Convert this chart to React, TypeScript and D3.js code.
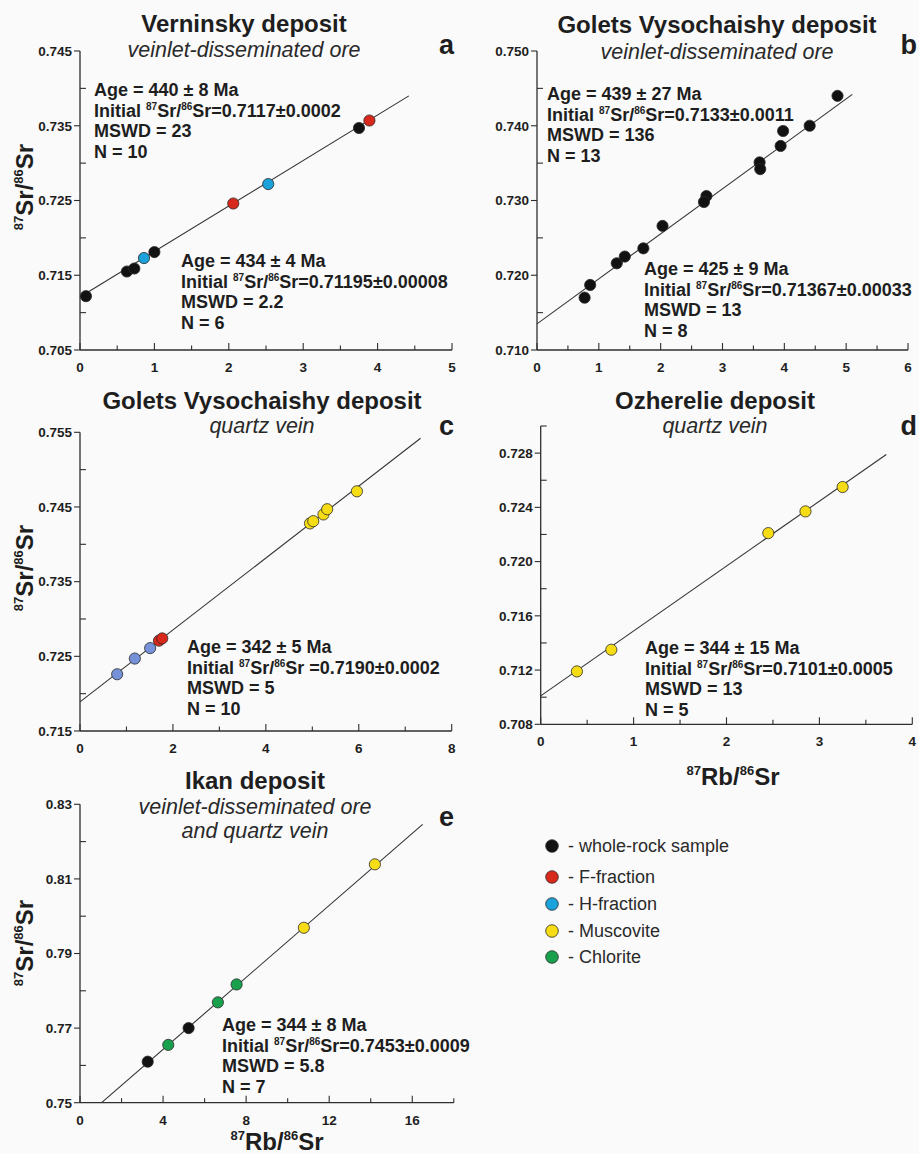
import React from "react";
import * as d3 from "d3";

const FONT = "'Liberation Sans', Arial, Helvetica, sans-serif";
const INK = "#1e1e1e";

// point kinds
const KIND_COLOR: Record<string, string> = {
  W: "#121212", // whole-rock
  F: "#d8281c", // F-fraction
  H: "#1ca2da", // H-fraction
  Hc: "#7592d8", // H-fraction as drawn in panel c
  M: "#f6dc14", // muscovite
  C: "#18a04c", // chlorite
};

// ---- panel a: Verninsky
const aRb = [0.08, 0.63, 0.73, 0.86, 1.0, 2.06, 2.53, 3.75, 3.89];
const aSr = [0.7122, 0.7155, 0.7159, 0.7173, 0.7181, 0.7246, 0.7272, 0.7347, 0.7357];
const aKind = ["W", "W", "W", "H", "W", "F", "H", "W", "F"];
const aLine = [[0, 0.7121], [4.42, 0.739]];
const aXTicks = [0, 1, 2, 3, 4, 5];
const aYTicks = [0.705, 0.715, 0.725, 0.735, 0.745];

// ---- panel b: Golets Vysochaishy, ore
const bRb = [0.77, 0.86, 1.29, 1.42, 1.72, 2.03, 2.74, 2.7, 3.6, 3.61, 3.94, 3.98, 4.41, 4.86];
const bSr = [0.717, 0.7187, 0.7216, 0.7225, 0.7236, 0.7266, 0.7306, 0.7298, 0.7351, 0.7342, 0.7373, 0.7393, 0.74, 0.744];
const bLine = [[0, 0.7135], [5.1, 0.7442]];
const bXTicks = [0, 1, 2, 3, 4, 5, 6];
const bYTicks = [0.71, 0.72, 0.73, 0.74, 0.75];

// ---- panel c: Golets Vysochaishy, quartz vein
const cRb = [0.8, 1.18, 1.51, 1.7, 1.77, 4.95, 5.02, 5.24, 5.32, 5.96];
const cSr = [0.7226, 0.7247, 0.7261, 0.7271, 0.7274, 0.7428, 0.7431, 0.744, 0.7447, 0.7471];
const cKind = ["Hc", "Hc", "Hc", "F", "F", "M", "M", "M", "M", "M"];
const cLine = [[0, 0.7189], [7.33, 0.7542]];
const cXTicks = [0, 2, 4, 6, 8];
const cYTicks = [0.715, 0.725, 0.735, 0.745, 0.755];

// ---- panel d: Ozherelie
const dRb = [0.39, 0.76, 2.45, 2.85, 3.25];
const dSr = [0.7119, 0.7135, 0.7221, 0.7237, 0.7255];
const dLine = [[0, 0.7101], [3.72, 0.7279]];
const dXTicks = [0, 1, 2, 3, 4];
const dYTicks = [0.708, 0.712, 0.716, 0.72, 0.724, 0.728];

// ---- panel e: Ikan
const eRb = [3.26, 4.25, 5.23, 6.64, 7.54, 10.78, 14.2];
const eSr = [0.761, 0.7655, 0.77, 0.7769, 0.7817, 0.7969, 0.8139];
const eKind = ["W", "C", "W", "C", "C", "M", "M"];
const eLine = [[1.04, 0.75], [16.5, 0.8246]];
const eXTicks = [0, 4, 8, 12, 16];
const eYTicks = [0.75, 0.77, 0.79, 0.81, 0.83];

// isochron notes: age, initial ratio, MSWD, N
const noteA1 = ["440 ± 8", "=0.7117±0.0002", "23", "10"];
const noteA2 = ["434 ± 4", "=0.71195±0.00008", "2.2", "6"];
const noteB1 = ["439 ± 27", "=0.7133±0.0011", "136", "13"];
const noteB2 = ["425 ± 9", "=0.71367±0.00033", "13", "8"];
const noteC = ["342 ± 5", " =0.7190±0.0002", "5", "10"];
const noteD = ["344 ± 15", "=0.7101±0.0005", "13", "5"];
const noteE = ["344 ± 8", "=0.7453±0.0009", "5.8", "7"];

const legendKinds = ["W", "F", "H", "M", "C"];
const legendNames = ["whole-rock sample", "F-fraction", "H-fraction", "Muscovite", "Chlorite"];

type Pt = { x: number; y: number; k: string };
const zip = (xs: number[], ys: number[], ks: string[] | string): Pt[] =>
  xs.map((x, i) => ({ x, y: ys[i], k: typeof ks === "string" ? ks : ks[i] }));

function Note({ x, y, v }: { x: number; y: number; v: string[] }) {
  const fs = 18;
  const lh = 20.6;
  return (
    <text x={x} y={y} fontFamily={FONT} fontWeight="bold" fontSize={fs} fill={INK}>
      <tspan x={x} y={y}>{`Age = ${v[0]} Ma`}</tspan>
      <tspan x={x} y={y + lh}>Initial </tspan>
      <tspan fontSize={10} dy={-7}>87</tspan>
      <tspan dy={7}>Sr/</tspan>
      <tspan fontSize={10} dy={-7}>86</tspan>
      <tspan dy={7}>{`Sr${v[1]}`}</tspan>
      <tspan x={x} y={y + 2 * lh}>{`MSWD = ${v[2]}`}</tspan>
      <tspan x={x} y={y + 3 * lh}>{`N = ${v[3]}`}</tspan>
    </text>
  );
}

function RatioLabel({ x, y, a, b, rotate }: { x: number; y: number; a: string; b: string; rotate?: boolean }) {
  return (
    <text
      transform={`translate(${x},${y})${rotate ? " rotate(-90)" : ""}`}
      textAnchor="middle"
      fontFamily={FONT}
      fontWeight="bold"
      fontSize={24}
      fill={INK}
    >
      <tspan fontSize={13} dy={-10}>87</tspan>
      <tspan dy={10}>{`${a}/`}</tspan>
      <tspan fontSize={13} dy={-10}>86</tspan>
      <tspan dy={10}>{b}</tspan>
    </text>
  );
}

type PanelProps = {
  box: [number, number, number, number]; // left, right, top, bottom
  xDom: [number, number];
  yDom: [number, number];
  xTicks: number[];
  xMinor: number;
  yTicks: number[];
  yMinor: number;
  yFmt: string;
  pts: Pt[];
  line: number[][];
  title: string;
  titleX: number;
  titleY: number;
  sub: string[];
  subY: number[];
  letter: string;
  letterX: number;
  letterY: number;
  letterAnchor: "start" | "end";
  notes: { x: number; y: number; v: string[] }[];
};

function Panel(p: PanelProps) {
  const [l, r, t, b] = p.box;
  const x = d3.scaleLinear().domain(p.xDom).range([l, r]);
  const y = d3.scaleLinear().domain(p.yDom).range([b, t]);
  const fmt = d3.format(p.yFmt);
  const eps = 1e-9;
  const xMinorT = d3.range(p.xDom[0], p.xDom[1] + eps, p.xMinor).filter((v) => !p.xTicks.some((m) => Math.abs(m - v) < eps));
  const yMinorT = d3.range(p.yDom[0], p.yDom[1] + eps, p.yMinor).filter((v) => !p.yTicks.some((m) => Math.abs(m - v) < eps));
  const lineGen = d3
    .line<number[]>()
    .x((d) => x(d[0]))
    .y((d) => y(d[1]));
  const axisStroke = "#2e2e2e";
  return (
    <g>
      <text x={p.titleX} y={p.titleY} textAnchor="middle" fontFamily={FONT} fontWeight="bold" fontSize={24} fill={INK}>
        {p.title}
      </text>
      {p.sub.map((s, i) => (
        <text key={i} x={p.titleX} y={p.subY[i]} textAnchor="middle" fontFamily={FONT} fontStyle="italic" fontSize={21.5} fill="#2a2a2a">
          {s}
        </text>
      ))}
      <text x={p.letterX} y={p.letterY} textAnchor={p.letterAnchor} fontFamily={FONT} fontWeight="bold" fontSize={27} fill={INK}>
        {p.letter}
      </text>

      {/* axes */}
      <line x1={l} x2={l} y1={t} y2={b} stroke={axisStroke} strokeWidth={1.3} />
      <line x1={l} x2={r} y1={b} y2={b} stroke={axisStroke} strokeWidth={1.3} />
      {p.yTicks.map((v) => (
        <g key={`ym${v}`}>
          <line x1={l - 6} x2={l} y1={y(v)} y2={y(v)} stroke={axisStroke} strokeWidth={1.1} />
          <text x={l - 8} y={y(v) + 4.8} textAnchor="end" fontFamily={FONT} fontWeight="bold" fontSize={13.5} fill={INK}>
            {fmt(v)}
          </text>
        </g>
      ))}
      {yMinorT.map((v) => (
        <line key={`yn${v}`} x1={l} x2={l + 6} y1={y(v)} y2={y(v)} stroke={axisStroke} strokeWidth={1.1} />
      ))}
      {p.xTicks.map((v) => (
        <g key={`xm${v}`}>
          <line x1={x(v)} x2={x(v)} y1={b} y2={b - 7} stroke={axisStroke} strokeWidth={1.1} />
          <text x={x(v)} y={b + 22} textAnchor="middle" fontFamily={FONT} fontWeight="bold" fontSize={13.5} fill={INK}>
            {v}
          </text>
        </g>
      ))}
      {xMinorT.map((v) => (
        <line key={`xn${v}`} x1={x(v)} x2={x(v)} y1={b} y2={b - 4.5} stroke={axisStroke} strokeWidth={1.1} />
      ))}

      {/* isochron */}
      <path d={lineGen(p.line) || ""} fill="none" stroke="#333" strokeWidth={1.1} />

      {p.pts.map((d, i) => (
        <circle key={i} cx={x(d.x)} cy={y(d.y)} r={5.6} fill={KIND_COLOR[d.k]} stroke="#2a2a2a" strokeWidth={0.8} />
      ))}

      {p.notes.map((n, i) => (
        <Note key={i} x={n.x} y={n.y} v={n.v} />
      ))}
    </g>
  );
}

export default function App() {
  const W = 919;
  const H = 1154;
  return (
    <svg
      width={W}
      height={H}
      viewBox={`0 0 ${W} ${H}`}
      style={{ position: "absolute", left: 0, top: 0, display: "block", background: "#fafafa" }}
    >
      <rect x={0} y={0} width={W} height={H} fill="#fafafa" />

      <Panel
        box={[80, 452, 51, 350]}
        xDom={[0, 5]}
        yDom={[0.705, 0.745]}
        xTicks={aXTicks}
        xMinor={0.5}
        yTicks={aYTicks}
        yMinor={0.005}
        yFmt=".3f"
        pts={zip(aRb, aSr, aKind)}
        line={aLine}
        title="Verninsky deposit"
        titleX={244}
        titleY={32}
        sub={["veinlet-disseminated ore"]}
        subY={[57]}
        letter="a"
        letterX={454}
        letterY={54}
        letterAnchor="end"
        notes={[
          { x: 94, y: 96, v: noteA1 },
          { x: 181, y: 267, v: noteA2 },
        ]}
      />
      <RatioLabel x={33} y={187} a="Sr" b="Sr" rotate />

      <Panel
        box={[537, 908, 51, 350]}
        xDom={[0, 6]}
        yDom={[0.71, 0.75]}
        xTicks={bXTicks}
        xMinor={0.5}
        yTicks={bYTicks}
        yMinor={0.005}
        yFmt=".3f"
        pts={zip(bRb, bSr, "W")}
        line={bLine}
        title="Golets Vysochaishy deposit"
        titleX={717}
        titleY={33}
        sub={["veinlet-disseminated ore"]}
        subY={[59]}
        letter="b"
        letterX={917}
        letterY={54}
        letterAnchor="end"
        notes={[
          { x: 547, y: 100, v: noteB1 },
          { x: 644, y: 275, v: noteB2 },
        ]}
      />

      <Panel
        box={[80, 451.7, 432.3, 731]}
        xDom={[0, 8]}
        yDom={[0.715, 0.755]}
        xTicks={cXTicks}
        xMinor={1}
        yTicks={cYTicks}
        yMinor={0.005}
        yFmt=".3f"
        pts={zip(cRb, cSr, cKind)}
        line={cLine}
        title="Golets Vysochaishy deposit"
        titleX={262}
        titleY={409}
        sub={["quartz vein"]}
        subY={[433]}
        letter="c"
        letterX={454}
        letterY={435}
        letterAnchor="end"
        notes={[{ x: 187, y: 653, v: noteC }]}
      />
      <RatioLabel x={33} y={568} a="Sr" b="Sr" rotate />

      <Panel
        box={[540.7, 912.3, 426, 724.3]}
        xDom={[0, 4]}
        yDom={[0.708, 0.73]}
        xTicks={dXTicks}
        xMinor={0.5}
        yTicks={dYTicks}
        yMinor={0.002}
        yFmt=".3f"
        pts={zip(dRb, dSr, "M")}
        line={dLine}
        title="Ozherelie deposit"
        titleX={715}
        titleY={409}
        sub={["quartz vein"]}
        subY={[433]}
        letter="d"
        letterX={917}
        letterY={435}
        letterAnchor="end"
        notes={[{ x: 645, y: 654, v: noteD }]}
      />
      <RatioLabel x={733} y={785} a="Rb" b="Sr" />

      <Panel
        box={[80, 453.8, 804.3, 1102.7]}
        xDom={[0, 18]}
        yDom={[0.75, 0.83]}
        xTicks={eXTicks}
        xMinor={2}
        yTicks={eYTicks}
        yMinor={0.01}
        yFmt=".2f"
        pts={zip(eRb, eSr, eKind)}
        line={eLine}
        title="Ikan deposit"
        titleX={255}
        titleY={789}
        sub={["veinlet-disseminated ore", "and quartz vein"]}
        subY={[814, 838]}
        letter="e"
        letterX={454}
        letterY={826}
        letterAnchor="end"
        notes={[{ x: 222, y: 1031, v: noteE }]}
      />
      <RatioLabel x={33} y={943} a="Sr" b="Sr" rotate />
      <RatioLabel x={277} y={1150} a="Rb" b="Sr" />

      {/* legend */}
      {legendKinds.map((k, i) => {
        const ly = [846, 877, 904, 931, 957][i];
        return (
          <g key={k}>
            <circle cx={552} cy={ly} r={6.3} fill={KIND_COLOR[k]} stroke="#2a2a2a" strokeWidth={0.8} />
            <text x={568} y={ly + 6.3} fontFamily={FONT} fontSize={18} fill="#2a2a2a">
              {`- ${legendNames[i]}`}
            </text>
          </g>
        );
      })}
    </svg>
  );
}
